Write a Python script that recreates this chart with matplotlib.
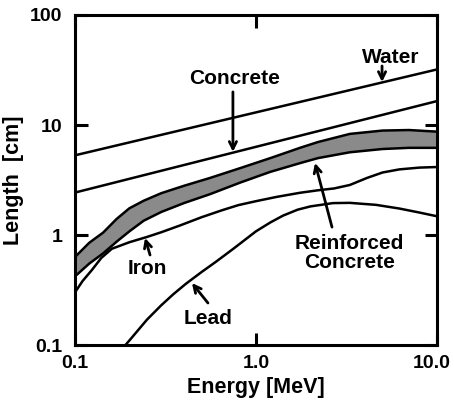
import numpy as np
import matplotlib
matplotlib.use("Agg")
import matplotlib.pyplot as plt
import matplotlib.transforms as mtransforms
from matplotlib.ticker import FixedLocator, FixedFormatter, NullLocator

plt.rcParams['font.family'] = ['Liberation Sans', 'DejaVu Sans']
plt.rcParams['font.weight'] = 'bold'

# values (energy in MeV, length in cm)
water_e = [0.1, 10.0]
water_len = [5.3, 32.0]

concrete_e = [0.1, 10.0]
concrete_len = [2.43, 16.5]

rc_e = [0.1, 0.12, 0.143, 0.17, 0.2, 0.24, 0.3, 0.4, 0.557, 0.82, 1.2, 1.75, 2.2, 3.3, 5.0, 7.0, 10.0]
rc_upper = [0.63, 0.85, 1.05, 1.4, 1.75, 2.05, 2.4, 2.8, 3.3, 4.06, 5.0, 6.2, 7.0, 8.3, 8.9, 9.0, 8.7]
rc_lower = [0.42, 0.55, 0.68, 0.87, 1.08, 1.35, 1.62, 1.95, 2.35, 3.0, 3.75, 4.5, 5.0, 5.65, 6.05, 6.2, 6.2]

iron_e = [0.1, 0.11, 0.124, 0.14, 0.16, 0.2, 0.25, 0.3, 0.38, 0.5, 0.65, 0.8, 1.0, 1.3,
          1.75, 2.2, 2.7, 3.3, 4.1, 5.0, 6.2, 8.0, 10.0]
iron_len = [0.3, 0.38, 0.48, 0.62, 0.75, 0.86, 0.96, 1.06, 1.22, 1.45, 1.68, 1.87, 2.03, 2.22,
            2.42, 2.55, 2.65, 2.85, 3.3, 3.7, 3.95, 4.1, 4.15]

lead_e = [0.18, 0.2, 0.25, 0.3, 0.35, 0.41, 0.5, 0.6, 0.75, 1.0, 1.2, 1.41, 1.7, 2.0,
          2.66, 3.3, 4.6, 6.2, 8.0, 10.0]
lead_len = [0.09, 0.11, 0.17, 0.23, 0.29, 0.36, 0.46, 0.57, 0.75, 1.08, 1.3, 1.5, 1.7, 1.82,
            1.95, 1.96, 1.88, 1.74, 1.6, 1.48]

x_ticks = [0.1, 1.0, 10.0]
x_labels = ['0.1', '1.0', '10.0']
y_ticks = [0.1, 1, 10, 100]
y_labels = ['0.1', '1', '10', '100']

fig = plt.figure(figsize=(4.54, 4.13), dpi=100)
ax = fig.add_axes([0.165, 0.1646, 0.7976, 0.7991])

lw = 1.8
ax.fill_between(rc_e, rc_lower, rc_upper, color='#8a8a8a', lw=0)
ax.plot(rc_e, rc_upper, color='black', lw=lw)
ax.plot(rc_e, rc_lower, color='black', lw=lw)
ax.plot(water_e, water_len, color='black', lw=lw)
ax.plot(concrete_e, concrete_len, color='black', lw=lw)
ax.plot(iron_e, iron_len, color='black', lw=lw)
ax.plot(lead_e, lead_len, color='black', lw=lw)

ax.set_xscale('log')
ax.set_yscale('log')
ax.set_xlim(0.1, 10)
ax.set_ylim(0.1, 100)

ax.xaxis.set_major_locator(FixedLocator(x_ticks))
ax.xaxis.set_major_formatter(FixedFormatter(x_labels))
ax.yaxis.set_major_locator(FixedLocator(y_ticks))
ax.yaxis.set_major_formatter(FixedFormatter(y_labels))
ax.xaxis.set_minor_locator(NullLocator())
ax.yaxis.set_minor_locator(NullLocator())
ax.tick_params(which='major', direction='in', length=9, width=2.2,
               top=True, right=True, labelsize=14)
ax.tick_params(axis='y', pad=9)
ax.tick_params(axis='x', pad=7)
for sp in ax.spines.values():
    sp.set_linewidth(2.2)

# pull the last x label a little left so it stays inside the figure
fig.canvas.draw()
shift = mtransforms.ScaledTranslation(-5 / 100, 0, fig.dpi_scale_trans)
last = ax.get_xticklabels()[-1]
last.set_transform(last.get_transform() + shift)

ax.set_xlabel('Energy [MeV]', fontsize=15.5, fontweight='bold', labelpad=4)
ax.set_ylabel('Length  [cm]', fontsize=15.5, fontweight='bold', labelpad=4)

arrow = dict(arrowstyle='->', color='black', lw=2, mutation_scale=13,
             shrinkA=0, shrinkB=0)
lab = dict(fontsize=15, fontweight='bold', ha='center', va='center')

ax.text(5.57, 41.5, 'Water', **lab)
ax.annotate('', xy=(4.97, 24.6), xytext=(4.97, 34.4), arrowprops=arrow)

ax.text(0.766, 26.2, 'Concrete', **lab)
ax.annotate('', xy=(0.746, 5.7), xytext=(0.746, 20.0), arrowprops=arrow)

ax.text(3.27, 0.686, 'Reinforced\nConcrete', linespacing=1.05, **lab)
ax.annotate('', xy=(2.12, 4.52), xytext=(2.63, 1.18), arrowprops=arrow)

ax.text(0.25, 0.5, 'Iron', **lab)
ax.annotate('', xy=(0.244, 0.94), xytext=(0.26, 0.658), arrowprops=arrow)

ax.text(0.543, 0.176, 'Lead', **lab)
ax.annotate('', xy=(0.443, 0.366), xytext=(0.543, 0.241), arrowprops=arrow)

fig.savefig('out.png', dpi=100)
